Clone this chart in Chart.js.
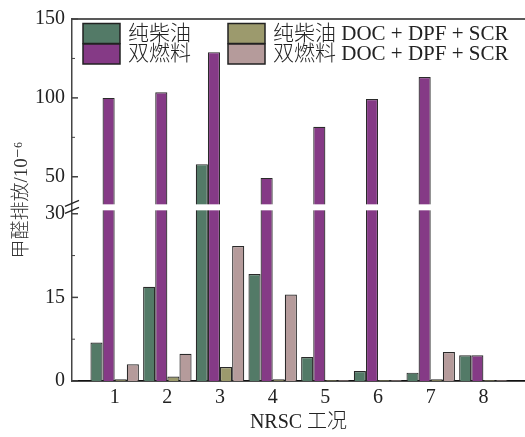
<!DOCTYPE html>
<html><head><meta charset="utf-8">
<script src="https://cdn.jsdelivr.net/npm/chart.js@4/dist/chart.umd.min.js"></script>
<style>html,body{margin:0;padding:0;background:#fff}#wrap{width:525px;height:437px;position:relative}</style>
</head><body><div id="wrap"><canvas id="c"></canvas></div>
<script>
// ---- data ----
const categories = [1, 2, 3, 4, 5, 6, 7, 8];
const seriesNames = ['纯柴油', '双燃料', '纯柴油 DOC + DPF + SCR', '双燃料 DOC + DPF + SCR'];
const diesel   = [6.9, 16.9, 58, 19.2, 4.3, 1.8, 1.5, 4.6];
const dual     = [100, 103.6, 129, 49.3, 81.7, 99.3, 113.2, 4.6];
const dieselAT = [0.3, 0.8, 2.5, 0.3, 0.2, 0.2, 0.3, 0.2];
const dualAT   = [3.0, 4.9, 24.2, 15.5, 0.2, 0.2, 5.2, 0.2];
const yTicks = [0, 15, 30, 50, 100, 150];
const yMinorTicks = [7.5, 22.5, 75, 125];
const breakValue = 30;

const colors = ['#537a67', '#853a86', '#9c9a6d', '#b59b9b'];
const SERIF = "'Liberation Serif', 'DejaVu Serif', 'Noto Sans CJK SC', serif";

// broken linear scale: 0-30 lower part, 30-150 upper part
const LOW_FRAC = 0.462, HIGH_FRAC = 0.477;
const Base = Chart.LinearScale || Chart.registry.getScale('linear');
class BrokenScale extends Base {
  getPixelForValue(v) {
    const h = this.bottom - this.top;
    if (v <= breakValue) return this.bottom - (v - this.min) / (breakValue - this.min) * LOW_FRAC * h;
    return this.bottom - HIGH_FRAC * h - (v - breakValue) / (this.max - breakValue) * (1 - HIGH_FRAC) * h;
  }
  getValueForPixel(p) {
    const h = this.bottom - this.top;
    const f = (this.bottom - p) / h;
    if (f <= LOW_FRAC) return this.min + f / LOW_FRAC * (breakValue - this.min);
    return breakValue + (f - HIGH_FRAC) / (1 - HIGH_FRAC) * (this.max - breakValue);
  }
}
BrokenScale.id = 'broken';
BrokenScale.defaults = Base.defaults;
Chart.register(BrokenScale);

const decor = {
  id: 'decor',
  afterDatasetsDraw(chart) {
    const ctx = chart.ctx, ca = chart.chartArea, y = chart.scales.y;
    const h = y.bottom - y.top;
    const hs = y.bottom - HIGH_FRAC * h;
    ctx.save();
    ctx.fillStyle = '#fff';
    ctx.fillRect(ca.left + 1.5, hs - 4, ca.right - ca.left, 6);
    ctx.restore();
  },
  afterDraw(chart) {
    const ctx = chart.ctx, ca = chart.chartArea, y = chart.scales.y;
    ctx.save();
    // top frame line
    ctx.strokeStyle = '#222'; ctx.lineWidth = 1.5;
    ctx.beginPath(); ctx.moveTo(ca.left, ca.top); ctx.lineTo(ca.right, ca.top); ctx.stroke();
    // inward ticks
    ctx.strokeStyle = '#444'; ctx.lineWidth = 1.5;
    yTicks.forEach(v => {
      const p = y.getPixelForValue(v);
      ctx.beginPath(); ctx.moveTo(ca.left, p); ctx.lineTo(ca.left + 6, p); ctx.stroke();
    });
    ctx.lineWidth = 1;
    yMinorTicks.forEach(v => {
      const p = y.getPixelForValue(v);
      ctx.beginPath(); ctx.moveTo(ca.left, p); ctx.lineTo(ca.left + 3, p); ctx.stroke();
    });
    // break marks
    const h = y.bottom - y.top;
    const hs = y.bottom - HIGH_FRAC * h;
    ctx.strokeStyle = '#222'; ctx.lineWidth = 1.3;
    [hs - 5, hs + 2].forEach(py => {
      ctx.beginPath(); ctx.moveTo(ca.left - 7, py + 3); ctx.lineTo(ca.left + 7, py - 3); ctx.stroke();
    });
    // legend
    const ds = chart.data.datasets;
    const pos = [[83, 23.5], [83, 44], [228, 23.5], [228, 44]];
    ctx.font = "300 21px " + SERIF;
    ctx.textBaseline = 'middle';
    ctx.textAlign = 'left';
    ds.forEach((d, i) => {
      const [bx, by] = pos[i];
      ctx.fillStyle = d.backgroundColor;
      ctx.fillRect(bx, by, 37, 20);
      ctx.strokeStyle = '#222'; ctx.lineWidth = 1.5;
      ctx.strokeRect(bx, by, 37, 20);
      ctx.fillStyle = '#222';
      ctx.fillText(d.label, bx + 45, by + 10.5);
    });
    ctx.restore();
  }
};

const series = [diesel, dual, dieselAT, dualAT];
new Chart(document.getElementById('c'), {
  type: 'bar',
  data: {
    datasets: series.map((arr, i) => ({
      label: seriesNames[i],
      data: categories.map((c, j) => ({ x: c, y: arr[j] })),
      backgroundColor: colors[i],
      borderColor: '#2a2a2a',
      borderWidth: 1.2,
      categoryPercentage: 0.92,
      barPercentage: 1.0
    }))
  },
  options: {
    responsive: true,
    maintainAspectRatio: false,
    animation: false,
    layout: { padding: { top: 15, right: 0, left: 0, bottom: 0 } },
    plugins: { legend: { display: false }, tooltip: { enabled: false } },
    scales: {
      x: {
        type: 'linear', min: 0.19, max: 8.79, bounds: 'data', offset: false,
        afterBuildTicks: s => { s.ticks = categories.map(v => ({ value: v })); },
        afterFit: s => { s.height = 56; },
        grid: { display: false, drawTicks: false, tickLength: 0 },
        border: { display: true, color: '#111', width: 1.8 },
        ticks: { padding: 5, color: '#222', font: { family: SERIF, size: 20 }, autoSkip: false, maxRotation: 0 },
        title: { display: true, text: 'NRSC 工况', color: '#222', font: { family: SERIF, size: 20, weight: '300' }, padding: { top: 0, bottom: 2 } }
      },
      y: {
        type: 'broken', min: 0, max: 150, bounds: 'data',
        afterBuildTicks: s => { s.ticks = yTicks.map(v => ({ value: v })); },
        afterFit: s => { s.width = 72; },
        grid: { display: false, drawTicks: false, tickLength: 0 },
        border: { display: true, color: '#444', width: 1.5 },
        ticks: { padding: 7, color: '#222', font: { family: SERIF, size: 20 }, autoSkip: false },
        title: { display: true, text: '甲醛排放/10⁻⁶', color: '#333', font: { family: SERIF, size: 19, weight: '300' }, padding: { top: 11, bottom: 0 } }
      }
    }
  },
  plugins: [decor]
});
</script></body></html>
